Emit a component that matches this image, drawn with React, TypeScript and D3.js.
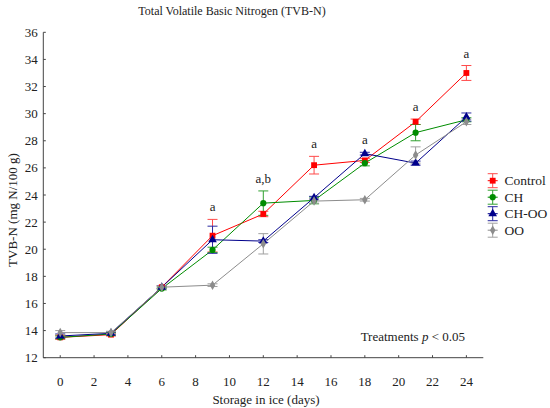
import React from "react";
import * as d3 from "d3";

const days = [0, 3, 6, 9, 12, 15, 18, 21, 24];
const xTicks = [0, 2, 4, 6, 8, 10, 12, 14, 16, 18, 20, 22, 24];
const yTicks = [12, 14, 16, 18, 20, 22, 24, 26, 28, 30, 32, 34, 36];

const seriesNames = ["Control", "CH", "CH-OO", "OO"];
const controlMean = [13.5, 13.7, 17.2, 21.0, 22.6, 26.2, 26.55, 29.4, 33.0];
const controlErr = [0.15, 0.1, 0.1, 1.2, 0.2, 0.65, 0.15, 0.2, 0.55];
const chMean = [13.5, 13.75, 17.1, 19.95, 23.4, 23.6, 26.35, 28.6, 29.55];
const chErr = [0.1, 0.1, 0.1, 0.2, 0.9, 0.25, 0.2, 0.6, 0.15];
const choMean = [13.6, 13.8, 17.2, 20.7, 20.6, 23.8, 27.05, 26.35, 29.75];
const choErr = [0.15, 0.1, 0.1, 1.0, 0.1, 0.1, 0.1, 0.15, 0.3];
const ooMean = [13.85, 13.85, 17.2, 17.35, 20.4, 23.55, 23.65, 26.95, 29.4];
const ooErr = [0.15, 0.1, 0.1, 0.1, 0.75, 0.15, 0.1, 0.6, 0.2];

const sigDays = [9, 12, 15, 18, 21, 24];
const sigLabels = ["a", "a,b", "a", "a", "a", "a"];

const W = 550;
const H = 408;
const FONT = "'Liberation Serif', 'Times New Roman', serif";

const series = [
  { name: seriesNames[0], mean: controlMean, err: controlErr, color: "#ff0000", errColor: "#ff4a4a", symbol: d3.symbolSquare, size: 34 },
  { name: seriesNames[1], mean: chMean, err: chErr, color: "#008c00", errColor: "#30a030", symbol: d3.symbolCircle, size: 30 },
  { name: seriesNames[2], mean: choMean, err: choErr, color: "#00008b", errColor: "#2a2aa0", symbol: d3.symbolTriangle, size: 32 },
  { name: seriesNames[3], mean: ooMean, err: ooErr, color: "#8c8c8c", errColor: "#a0a0a0", symbol: d3.symbolDiamond, size: 26 },
];

export default function App() {
  const x = d3.scaleLinear().domain([-1, 25]).range([43.3, 483.3]);
  const y = d3.scaleLinear().domain([12, 36]).range([357.7, 32.3]);
  const line = d3
    .line<number>()
    .x((_, i) => x(days[i]))
    .y((v) => y(v));
  const capHalf = 5;

  return (
    <svg
      width={W}
      height={H}
      style={{ position: "absolute", left: 0, top: 0, background: "#fff" }}
      fontFamily={FONT}
    >
      <text x={232} y={15} fontSize={12} textAnchor="middle" fill="#222">
        Total Volatile Basic Nitrogen (TVB-N)
      </text>

      {/* axes */}
      <line x1={x(-1)} x2={x(-1)} y1={y(36)} y2={y(12)} stroke="#444" strokeWidth={1} />
      <line x1={x(-1)} x2={x(25)} y1={y(12)} y2={y(12)} stroke="#444" strokeWidth={1} />
      {yTicks.map((t) => (
        <g key={"y" + t}>
          <line x1={x(-1)} x2={x(-1) + 2.5} y1={y(t)} y2={y(t)} stroke="#444" />
          <text x={x(-1) - 5.5} y={y(t) + 4.5} fontSize={13} textAnchor="end" fill="#222">
            {t}
          </text>
        </g>
      ))}
      {xTicks.map((t) => (
        <g key={"x" + t}>
          <line x1={x(t)} x2={x(t)} y1={y(12)} y2={y(12) - 2.5} stroke="#444" />
          <text x={x(t)} y={386} fontSize={13} textAnchor="middle" fill="#222">
            {t}
          </text>
        </g>
      ))}
      <text x={266} y={404} fontSize={13} textAnchor="middle" fill="#222">
        Storage in ice (days)
      </text>
      <text
        transform={`translate(17,${210}) rotate(-90)`}
        fontSize={13}
        textAnchor="middle"
        fill="#222"
      >
        TVB-N (mg N/100 g)
      </text>

      <text x={465} y={341} fontSize={13} textAnchor="end" fill="#222">
        Treatments <tspan fontStyle="italic">p</tspan> &lt; 0.05
      </text>

      {/* lines */}
      {series.map((s) => (
        <path key={"l" + s.name} d={line(s.mean) || ""} fill="none" stroke={s.color} strokeWidth={1} />
      ))}
      {/* error bars */}
      {series.map((s) => (
        <g key={"e" + s.name} stroke={s.errColor} strokeWidth={1}>
          {s.mean.map((m, i) => {
            const cx = x(days[i]);
            const y1 = y(m - s.err[i]);
            const y2 = y(m + s.err[i]);
            return (
              <g key={i}>
                <line x1={cx} x2={cx} y1={y1} y2={y2} />
                <line x1={cx - capHalf} x2={cx + capHalf} y1={y1} y2={y1} />
                <line x1={cx - capHalf} x2={cx + capHalf} y1={y2} y2={y2} />
              </g>
            );
          })}
        </g>
      ))}
      {/* markers */}
      {series.map((s) => (
        <g key={"m" + s.name} fill={s.color}>
          {s.mean.map((m, i) => (
            <path
              key={i}
              transform={`translate(${x(days[i])},${y(m)})`}
              d={d3.symbol().type(s.symbol).size(s.size)() || ""}
            />
          ))}
        </g>
      ))}

      {/* significance labels */}
      {sigDays.map((d, k) => {
        const i = days.indexOf(d);
        const top = d3.max(series, (s) => s.mean[i] + s.err[i]) as number;
        return (
          <text key={"s" + d} x={x(d)} y={y(top) - 8} fontSize={13} textAnchor="middle" fill="#222">
            {sigLabels[k]}
          </text>
        );
      })}

      {/* legend */}
      {series.map((s, k) => {
        const ly = 180.7 + k * 16.5;
        const lx = 492.7;
        return (
          <g key={"lg" + s.name}>
            <g stroke={s.errColor} strokeWidth={1}>
              <line x1={lx} x2={lx} y1={ly - 7} y2={ly + 7} />
              <line x1={lx - capHalf} x2={lx + capHalf} y1={ly - 7} y2={ly - 7} />
              <line x1={lx - capHalf} x2={lx + capHalf} y1={ly + 7} y2={ly + 7} />
            </g>
            <line x1={lx - 5} x2={lx + 5} y1={ly} y2={ly} stroke={s.color} />
            <path
              transform={`translate(${lx},${ly})`}
              d={d3.symbol().type(s.symbol).size(s.size)() || ""}
              fill={s.color}
            />
            <text x={504.5} y={ly + 4.5} fontSize={13.5} fill="#222">
              {s.name}
            </text>
          </g>
        );
      })}
    </svg>
  );
}
